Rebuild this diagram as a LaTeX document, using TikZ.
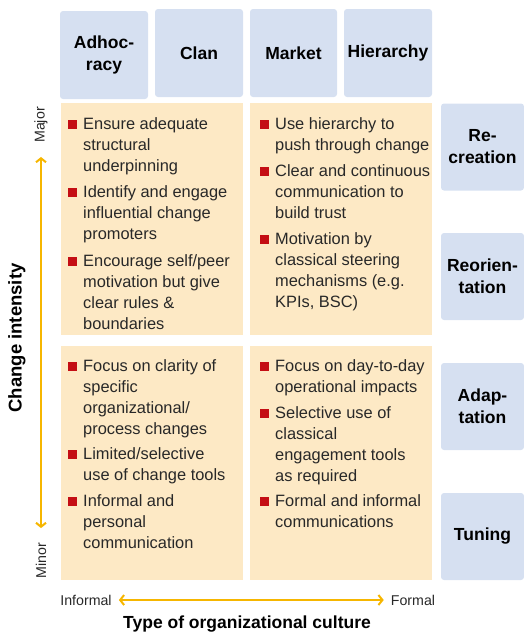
\documentclass[tikz,border=0pt]{standalone}
\usepackage{fontspec}
\setmainfont{Liberation Sans}
\usetikzlibrary{arrows.meta}
\definecolor{hblue}{RGB}{214,224,241}
\definecolor{cream}{RGB}{253,233,197}
\definecolor{bred}{RGB}{196,14,20}
\definecolor{amber}{RGB}{246,182,0}
\definecolor{ink}{RGB}{40,40,40}
\tikzset{
  head/.style={fill=hblue, rounded corners=3pt, inner sep=0pt, align=center,
    font=\bfseries\fontsize{17.5}{22}\selectfont},
  panel/.style={fill=cream, inner sep=0pt, minimum width=182pt},
  bulletitem/.style={anchor=north west, align=left, inner sep=0pt, text=ink,
    font=\fontsize{16.4}{21}\selectfont, execute at begin node={\rule{0pt}{14pt}}},
  sq/.style={fill=bred, minimum size=9pt, inner sep=0pt, anchor=south east},
  small/.style={inner sep=0pt, text=ink, font=\fontsize{14.2}{16}\selectfont},
  axisarrow/.style={draw=amber, line width=2pt, {Straight Barb[length=4pt,width=10pt]}-{Straight Barb[length=4pt,width=10pt]}}
}
\begin{document}
\begin{tikzpicture}[x=1pt,y=-1pt]
\useasboundingbox (0,0) rectangle (524,635);

% culture types
\node[head, minimum width=88pt, minimum height=88pt] (hAdh) at (104,55) {Adhoc-\\racy};
\node[head, minimum width=88pt, minimum height=88pt] (hClan) at (199,53) {Clan};
\node[head, minimum width=87pt, minimum height=88pt] (hMkt) at (293.5,53) {Market};
\node[head, minimum width=88pt, minimum height=88pt] (hHier) at (388,53) {Hierarchy};

% panels
\node[panel, minimum height=232pt] (pTL) at (152,219) {};
\node[panel, minimum height=232pt] (pTR) at (341,219) {};
\node[panel, minimum height=234pt] (pBL) at (152,463) {};
\node[panel, minimum height=234pt] (pBR) at (341,463) {};

% change types
\node[head, minimum width=83pt, minimum height=87pt] (rRec) at (482.5,147) {Re-\\creation};
\node[head, minimum width=83pt, minimum height=87pt] (rReo) at (482.5,276.5) {Reorien-\\tation};
\node[head, minimum width=83pt, minimum height=87pt] (rAda) at (482.5,406.5) {Adap-\\tation};
\node[head, minimum width=83pt, minimum height=87pt] (rTun) at (482.5,536.5) {Tuning};

% top left
\node[bulletitem] (tl1) at (83,117) {Ensure adequate\\structural\\underpinning};
\node[bulletitem] (tl2) at (83,185) {Identify and engage\\influential change\\promoters};
\node[bulletitem] (tl3) at (83,254) {Encourage self/peer\\motivation but give\\clear rules \&\\boundaries};
% top right
\node[bulletitem] (tr1) at (275,117) {Use hierarchy to\\push through change};
\node[bulletitem] (tr2) at (275,164) {Clear and continuous\\communication to\\build trust};
\node[bulletitem] (tr3) at (275,232) {Motivation by\\classical steering\\mechanisms (e.g.\\KPIs, BSC)};
% bottom left
\node[bulletitem] (bl1) at (83,359) {Focus on clarity of\\specific\\organizational/\\process changes};
\node[bulletitem] (bl2) at (83,447) {Limited/selective\\use of change tools};
\node[bulletitem] (bl3) at (83,494) {Informal and\\personal\\communication};
% bottom right
\node[bulletitem] (br1) at (275,359) {Focus on day-to-day\\operational impacts};
\node[bulletitem] (br2) at (275,406) {Selective use of\\classical\\engagement tools\\as required};
\node[bulletitem] (br3) at (275,494) {Formal and informal\\communications};

\foreach \i in {tl1,tl2,tl3,tr1,tr2,tr3,bl1,bl2,bl3,br1,br2,br3}
  \node[sq] at ([xshift=-6pt,yshift=-12pt]\i.north west) {};

% axes
\node[small, rotate=90] (major) at (41,125) {Major};
\node[small, rotate=90] (minor) at (41,561) {Minor};
\draw[axisarrow, shorten <=14pt, shorten >=15pt] (major.west) -- (minor.east);
\node[rotate=90, inner sep=0pt, font=\bfseries\fontsize{18.5}{22}\selectfont] (yttl) at (17,338) {Change intensity};

\node[small] (informal) at (86,600) {Informal};
\node[small] (formal) at (413,600) {Formal};
\draw[axisarrow, shorten <=7pt, shorten >=7pt] (informal.east) -- (formal.west);
\node[inner sep=0pt, font=\bfseries\fontsize{17.5}{22}\selectfont] (xttl) at (247,624) {Type of organizational culture};
\end{tikzpicture}
\end{document}
